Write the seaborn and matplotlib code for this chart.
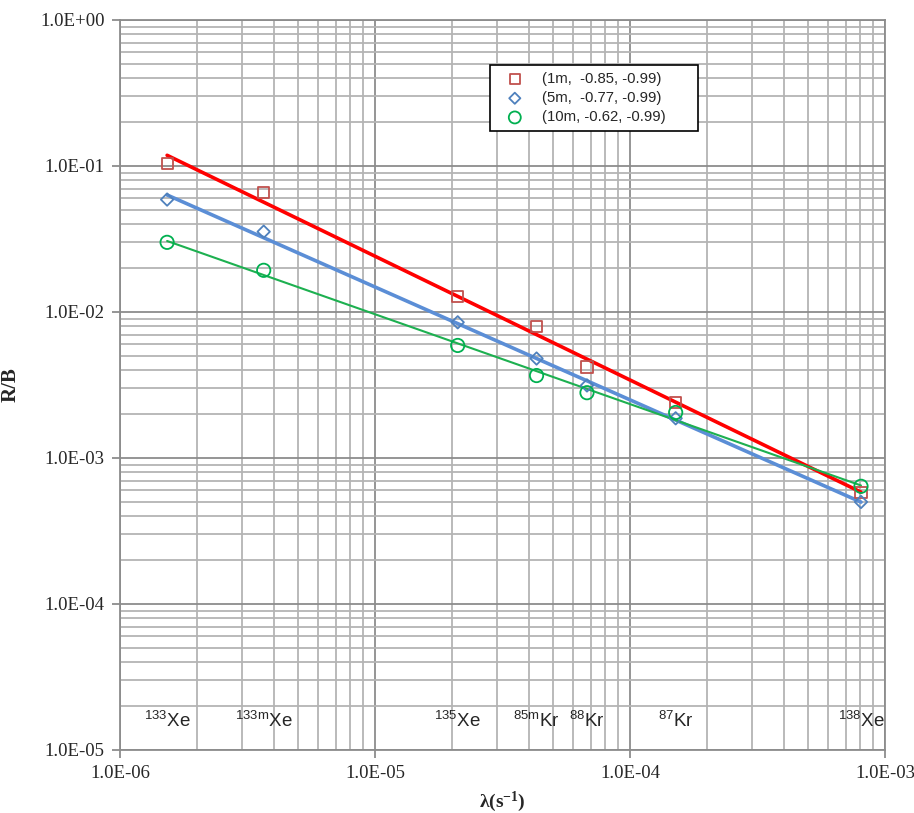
import numpy as np
import pandas as pd
import matplotlib
matplotlib.use("Agg")
import matplotlib.pyplot as plt
from matplotlib.ticker import LogLocator, FuncFormatter, NullFormatter
import seaborn as sns

# ---- data ----
isotopes = [r"$^{133}$Xe", r"$^{133m}$Xe", r"$^{135}$Xe", r"$^{85m}$Kr", r"$^{88}$Kr", r"$^{87}$Kr", r"$^{138}$Xe"]
lam = [1.53e-6, 3.66e-6, 2.11e-5, 4.30e-5, 6.78e-5, 1.51e-4, 8.05e-4]
rb_1m = [0.1035, 0.0656, 0.0128, 0.0079, 0.0042, 0.0024, 0.00058]
rb_5m = [0.0589, 0.0355, 0.0085, 0.0048, 0.00314, 0.00187, 0.00050]
rb_10m = [0.0300, 0.0193, 0.0059, 0.00367, 0.0028, 0.00205, 0.00064]
series_labels = ["(1m,  -0.85, -0.99)", "(5m,  -0.77, -0.99)", "(10m, -0.62, -0.99)"]

sns.set_theme(style="white")
plt.rcParams["font.family"] = ["Liberation Serif", "DejaVu Serif"]
plt.rcParams["mathtext.fontset"] = "custom"
plt.rcParams["mathtext.rm"] = "Liberation Sans"
plt.rcParams["mathtext.it"] = "Liberation Sans"
plt.rcParams["mathtext.bf"] = "Liberation Serif:bold"

fig = plt.figure(figsize=(9.14, 8.13), dpi=100)
ax = fig.add_axes([0.1313, 0.0775, 0.8370, 0.8979])

marker_colors = ["#C0504D", "#4F81BD", "#00B050"]
line_colors = ["#FF0000", "#5B8ED6", "#1DB050"]
line_widths = [2.6, 2.6, 1.5]
markers = ["s", "D", "o"]
msizes = [64, 40, 92]

for ys, lab, mc, lc, lw, mk, ms in zip([rb_1m, rb_5m, rb_10m], series_labels,
                                         marker_colors, line_colors, line_widths, markers, msizes):
    x = np.array(lam)
    y = np.array(ys)
    b, a = np.polyfit(np.log10(x), np.log10(y), 1)
    xf = np.array([x.min(), x.max()])
    yf = 10 ** (a + b * np.log10(xf))
    sns.lineplot(x=xf, y=yf, ax=ax, color=lc, lw=lw, zorder=3, legend=False)
    df = pd.DataFrame({"x": x, "y": y})
    sns.scatterplot(data=df, x="x", y="y", ax=ax, marker=mk, s=ms, facecolor="none",
                    edgecolor=mc, linewidth=1.3, zorder=4, label=lab)

ax.set_xscale("log")
ax.set_yscale("log")
ax.set_xlim(1e-6, 1e-3)
ax.set_ylim(1e-5, 1)

ax.xaxis.set_major_locator(LogLocator(base=10, numticks=10))
ax.yaxis.set_major_locator(LogLocator(base=10, numticks=10))
ax.xaxis.set_minor_locator(LogLocator(base=10, subs=np.arange(2, 10), numticks=20))
ax.yaxis.set_minor_locator(LogLocator(base=10, subs=np.arange(2, 10), numticks=20))
fmt = FuncFormatter(lambda v, p: "%.1E" % v)
ax.xaxis.set_major_formatter(fmt)
ax.yaxis.set_major_formatter(fmt)
ax.xaxis.set_minor_formatter(NullFormatter())
ax.yaxis.set_minor_formatter(NullFormatter())

ax.grid(True, which="major", color="#8C8C8C", lw=1.3, zorder=0)
ax.grid(True, which="minor", color="#B4B4B4", lw=1.3, zorder=0)
ax.set_axisbelow(True)
for s in ax.spines.values():
    s.set_color("#8C8C8C")
    s.set_linewidth(1.3)

ax.tick_params(axis="both", which="major", length=6, width=1.3, color="#8C8C8C",
               labelsize=13.5, direction="out", pad=5, bottom=True, left=True)
ax.tick_params(axis="both", which="minor", length=0)

ax.set_xlabel(r"$\mathbf{\lambda(s^{-1})}$", fontsize=14, labelpad=5)
ax.set_ylabel("R/B", fontsize=15, fontweight="bold", labelpad=14)

for name, xv in zip(isotopes, lam):
    ax.text(xv, 1.58e-5, name, ha="center", va="center", fontsize=13.5,
            family="Liberation Sans", zorder=5)

leg = ax.legend(loc="upper left", bbox_to_anchor=(0.484, 0.938, 0.272, 0.0), mode="expand",
                frameon=True, fancybox=False, edgecolor="black", framealpha=1,
                prop={"family": "Liberation Sans", "size": 10.7}, borderpad=0.45,
                handlelength=2.4, handletextpad=0.6, labelspacing=0.35, borderaxespad=0,
                markerscale=0.9)
leg.get_frame().set_linewidth(1.2)

fig.savefig("out.png", dpi=100)
